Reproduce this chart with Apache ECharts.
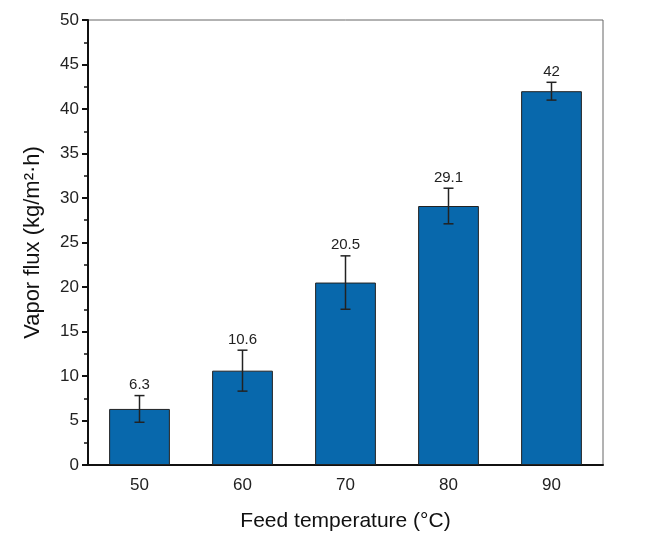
<!DOCTYPE html>
<html>
<head>
<meta charset="utf-8">
<script src="https://cdn.jsdelivr.net/npm/echarts@6/dist/echarts.min.js"></script>
<style>
  html, body { margin: 0; padding: 0; background: #fff; }
  #chart { width: 645px; height: 538px; }
</style>
</head>
<body>
<div id="chart"></div>
<script>
// feed temperature categories and measured flux
const temps = ['50', '60', '70', '80', '90'];
const flux = [6.3, 10.6, 20.5, 29.1, 42];
const errs = [1.5, 2.3, 3.0, 2.0, 1.0];
const yTicks = [0, 5, 10, 15, 20, 25, 30, 35, 40, 45, 50];

const font = 'Arial, "Liberation Sans", sans-serif';
const myChart = echarts.init(document.getElementById('chart'));

const errData = temps.map((t, i) => [i, flux[i] - errs[i], flux[i] + errs[i], flux[i]]);

const option = {
  animation: false,
  backgroundColor: '#fff',
  grid: {
    left: 88,
    right: 42,
    top: 20,
    bottom: 73,
    show: true,
    borderColor: '#666',
    borderWidth: 1
  },
  xAxis: {
    type: 'category',
    data: temps,
    name: 'Feed temperature (°C)',
    nameLocation: 'middle',
    nameGap: 46,
    nameTextStyle: { fontSize: 21, color: '#111', fontFamily: font },
    axisLine: { lineStyle: { color: '#111', width: 2 } },
    axisTick: { alignWithLabel: true, length: 6, lineStyle: { color: '#111', width: 2 } },
    axisLabel: { fontSize: 17, color: '#222', fontFamily: font, margin: 12 }
  },
  yAxis: {
    type: 'value',
    min: yTicks[0],
    max: yTicks[yTicks.length - 1],
    interval: 5,
    name: 'Vapor flux (kg/m²·h)',
    nameLocation: 'middle',
    nameGap: 44,
    nameTextStyle: { fontSize: 22, color: '#111', fontFamily: font },
    axisLine: { show: true, lineStyle: { color: '#111', width: 2 } },
    axisTick: { show: true, length: 6, lineStyle: { color: '#111', width: 2 } },
    minorTick: { show: true, splitNumber: 2, length: 4, lineStyle: { color: '#111', width: 1.5 } },
    splitLine: { show: false },
    axisLabel: { fontSize: 17, color: '#222', fontFamily: font, margin: 9 }
  },
  series: [
    {
      type: 'bar',
      data: flux,
      barWidth: '59%',
      itemStyle: { color: '#0868ac', borderColor: '#222', borderWidth: 1 }
    },
    {
      type: 'custom',
      data: errData,
      z: 5,
      renderItem: function (params, api) {
        const x = api.value(0);
        const lo = api.coord([x, api.value(1)]);
        const hi = api.coord([x, api.value(2)]);
        const cap = 5;
        return {
          type: 'group',
          children: [
            { type: 'line', shape: { x1: hi[0], y1: hi[1], x2: lo[0], y2: lo[1] }, style: { stroke: '#222', lineWidth: 1.5 } },
            { type: 'line', shape: { x1: hi[0] - cap, y1: hi[1], x2: hi[0] + cap, y2: hi[1] }, style: { stroke: '#222', lineWidth: 1.5 } },
            { type: 'line', shape: { x1: lo[0] - cap, y1: lo[1], x2: lo[0] + cap, y2: lo[1] }, style: { stroke: '#222', lineWidth: 1.5 } },
            {
              type: 'text',
              x: hi[0],
              y: hi[1] - 3,
              style: {
                text: String(api.value(3)),
                fill: '#222',
                font: '15px ' + font,
                align: 'center',
                verticalAlign: 'bottom'
              }
            }
          ]
        };
      }
    }
  ]
};
myChart.setOption(option);
window.onresize = myChart.resize;
</script>
</body>
</html>
